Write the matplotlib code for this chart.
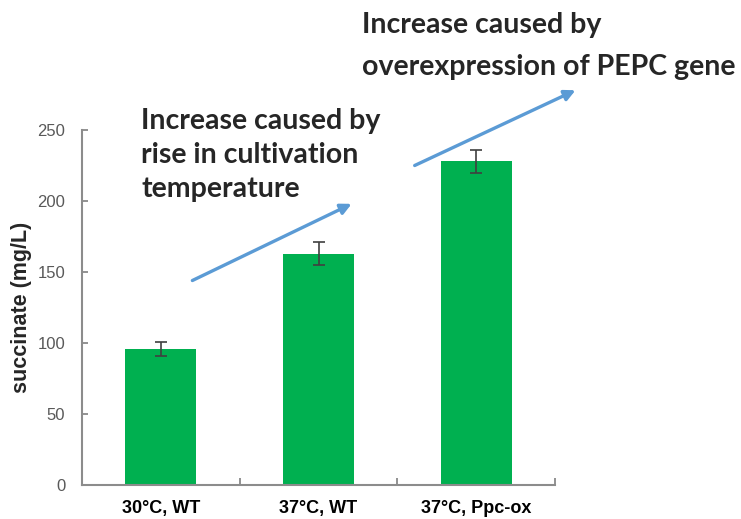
import matplotlib
matplotlib.use("Agg")
import matplotlib.pyplot as plt
import numpy as np

categories = ["30\u00b0C, WT", "37\u00b0C, WT", "37\u00b0C, Ppc-ox"]
values = [96, 163, 228]
errors = [5, 8, 8]
yticks = [0, 50, 100, 150, 200, 250]

# annotation arrows (data coordinates: category index, succinate value)
arrow1_start = (0.20, 144)
arrow1_end = (1.21, 198)
arrow2_start = (1.61, 225)
arrow2_end = (2.63, 278)
text1 = "Increase caused by\nrise in cultivation\ntemperature"
text2 = "Increase caused by\noverexpression of PEPC gene"

W, H = 741, 519
fig = plt.figure(figsize=(W / 100, H / 100), dpi=100)
ax = fig.add_axes([82 / W, 1 - 485 / H, (555 - 82) / W, (485 - 130) / H])

x = np.arange(len(categories))
ax.bar(x, values, width=0.45, color="#00B050", zorder=2)
ax.errorbar(x, values, yerr=errors, fmt="none", ecolor="#404040",
            elinewidth=1.2, capsize=4, capthick=1.2, zorder=3)

ax.set_xlim(-0.5, 2.5)
ax.set_ylim(0, 250)
ax.set_yticks(yticks)
ax.set_xticks(x)
ax.set_xticklabels(categories, fontfamily="Liberation Sans", fontweight="bold",
                   fontsize=13, color="black")
ax.set_xticks([-0.5, 0.5, 1.5, 2.5], minor=True)
ax.tick_params(axis="x", which="major", length=0, pad=11)
ax.tick_params(axis="x", which="minor", direction="in", length=5,
               width=1.2, color="#7f7f7f")
ax.tick_params(axis="y", direction="in", length=4, width=1.2,
               color="#7f7f7f", labelcolor="#595959", labelsize=12, pad=12)
for lab in ax.get_yticklabels():
    lab.set_fontfamily("Liberation Sans")

for s in ["top", "right"]:
    ax.spines[s].set_visible(False)
for s in ["left", "bottom"]:
    ax.spines[s].set_color("#8c8c8c")
    ax.spines[s].set_linewidth(1.5)

ax.set_ylabel("succinate (mg/L)", fontfamily="Liberation Sans",
              fontweight="bold", fontsize=15.5, color="#262626", labelpad=4)

arrow_props = dict(arrowstyle="-|>", color="#5B9BD5", lw=2.4,
                   mutation_scale=16, shrinkA=0, shrinkB=0)
ax.annotate("", xy=arrow1_end, xytext=arrow1_start, arrowprops=arrow_props,
            annotation_clip=False)
ax.annotate("", xy=arrow2_end, xytext=arrow2_start, arrowprops=arrow_props,
            annotation_clip=False)

fig.text(141 / W, 1 - 108 / H, text1, fontfamily="Lato", fontweight="bold",
         fontsize=20.5, color="#262626", va="top", ha="left", linespacing=1.38)
fig.text(362 / W, 1 - 12 / H, text2, fontfamily="Lato", fontweight="bold",
         fontsize=20.5, color="#262626", va="top", ha="left", linespacing=1.78)

fig.savefig("out.png", dpi=100)
